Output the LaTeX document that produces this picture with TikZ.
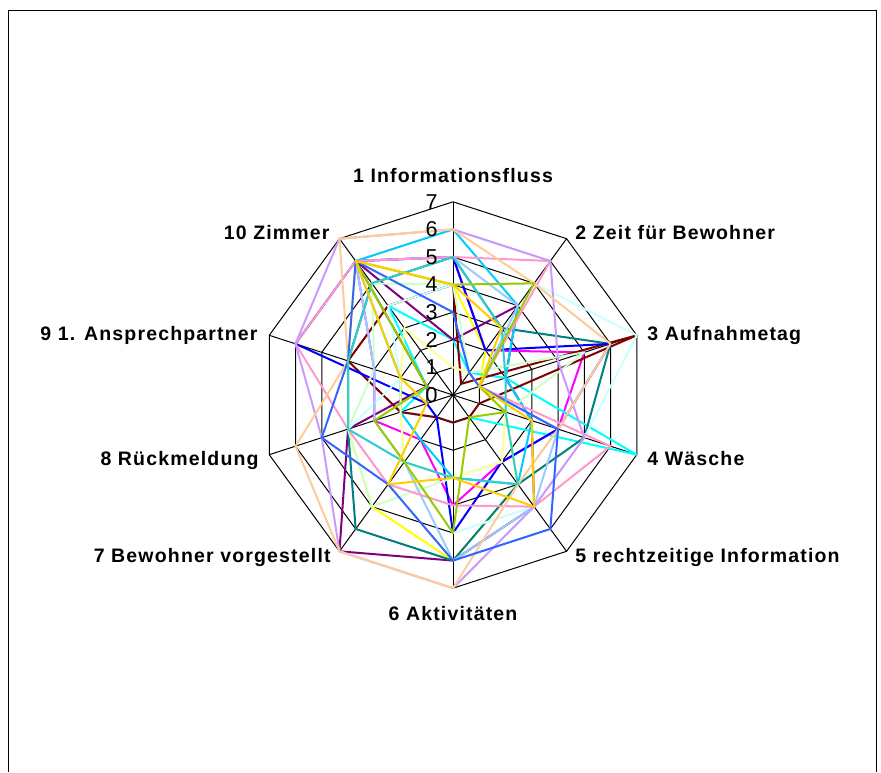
\documentclass[tikz,border=0pt]{standalone}
\usepackage{fontspec}
\setmainfont{Liberation Sans}
\newfontfamily\labfont[LetterSpace=6]{Liberation Sans}
\usetikzlibrary{calc}
\definecolor{cmag}{HTML}{FF00FF}
\definecolor{cyel}{HTML}{FFFF00}
\definecolor{ccya}{HTML}{00FFFF}
\definecolor{cpur}{HTML}{800080}
\definecolor{cdred}{HTML}{800000}
\definecolor{cteal}{HTML}{008080}
\definecolor{cblue}{HTML}{0000FF}
\definecolor{csky}{HTML}{00CCFF}
\definecolor{cltq}{HTML}{CCFFFF}
\definecolor{clgr}{HTML}{CCFFCC}
\definecolor{clye}{HTML}{FFFF99}
\definecolor{cpbl}{HTML}{99CCFF}
\definecolor{crose}{HTML}{FF99CC}
\definecolor{clav}{HTML}{CC99FF}
\definecolor{ctan}{HTML}{FFCC99}
\definecolor{croy}{HTML}{3366FF}
\definecolor{caqua}{HTML}{33CCCC}
\definecolor{clime}{HTML}{99CC00}
\definecolor{cgold}{HTML}{FFCC00}
\newcommand\radarline[2]{%
  \foreach \v [count=\k] in {#2} {\coordinate (p\k) at ($(C)+({90-36*(\k-1)}:{\v*27.6})$);}
  \draw[serie,#1] (p1)--(p2)--(p3)--(p4)--(p5)--(p6)--(p7)--(p8)--(p9)--(p10)--cycle;
}
\begin{document}
\begin{tikzpicture}[x=0.5pt,y=0.5pt,
  gridline/.style={black,line width=0.5pt},
  serie/.style={line width=1pt,line join=round},
  lab/.style={font=\labfont\bfseries\fontsize{9.75pt}{11pt}\selectfont,inner sep=0pt},
  tick/.style={font=\fontsize{10.75pt}{12pt}\selectfont,inner sep=0pt}]
\useasboundingbox (0,0) rectangle (881,772);
\fill[white] (0,0) rectangle (881,772);
\draw[gridline] (8.5,0) -- (8.5,761) -- (876.5,761) -- (876.5,0);
\coordinate (C) at (453,377);
% grid
\foreach \r in {1,...,7} {
  \draw[gridline] ($(C)+(90:{\r*27.6})$) \foreach \k in {1,...,9} { -- ($(C)+({90-36*\k}:{\r*27.6})$) } -- cycle;
}
\foreach \k in {0,...,9} { \draw[gridline] (C) -- ($(C)+({90-36*\k}:193.2)$); }
% series
\radarline{cmag}{5,2,5,4,3,4,2,3,3,6}
\radarline{cyel}{4,2,1,2,4,6,5,4,4,6}
\radarline{ccya}{2,1,2,7,1,1,1,2,1,4}
\radarline{cpur}{2,4,2,3,5,6,7,4,1,6}
\radarline{cdred}{4,0.5,7,1,1,1,1,2,4,4}
\radarline{cteal}{5,3,6,5,4,6,6,4,4,5}
\radarline{cblue}{5,2,6,4,3,5,1,1,6,6}
\radarline{csky}{6,4,2,3,4,3,2,2,2,6}
\radarline{cltq}{4,5,7,5,5,5,3,4,2,4}
\radarline{clgr}{4,1,5,2,3,3,5,4,3,5}
\radarline{clye}{1,1,1,2,3,3,3,2,2,3}
\radarline{cpbl}{5,4,1,4,5,6,3,3,3,6}
\radarline{crose}{5,6,1,6,5,4,4,4,6,6}
\radarline{clav}{6,6,4,5,5,7,7,5,6,7}
\radarline{ctan}{6,5,6,4,4,7,7,6,4,7}
\radarline{croy}{3,1,1,4,6,6,4,5,4,6}
\radarline{caqua}{5,3,2,2,4,3,3,4,4,5}
\radarline{clime}{4,5,1,2,1,5,3,3,1,6}
\radarline{cgold}{4,3,1,3,5,3,4,1,2,6}
% tick labels
\foreach \v in {0,...,7} { \node[tick,anchor=east] (t\v) at (438,{377+\v*27.6}) {\v}; }
% axis labels
\node[lab,anchor=base] (l1) at (453,589) {1 Informationsfluss};
\node[lab,anchor=base west] (l2) at (575,532) {2 Zeit für Bewohner};
\node[lab,anchor=base west] (l3) at (647,432) {3 Aufnahmetag};
\node[lab,anchor=base west] (l4) at (647,306.5) {4 Wäsche};
\node[lab,anchor=base west] (l5) at (575,210) {5 rechtzeitige Information};
\node[lab,anchor=base] (l6) at (453,152) {6 Aktivitäten};
\node[lab,anchor=base east] (l7) at (331,210) {7 Bewohner vorgestellt};
\node[lab,anchor=base east] (l8) at (259,306.5) {8 Rückmeldung};
\node[lab,anchor=base east] (l9) at (258,432) {9 1. Ansprechpartner};
\node[lab,anchor=base east] (l10) at (330,532) {10 Zimmer};
\end{tikzpicture}
\end{document}
